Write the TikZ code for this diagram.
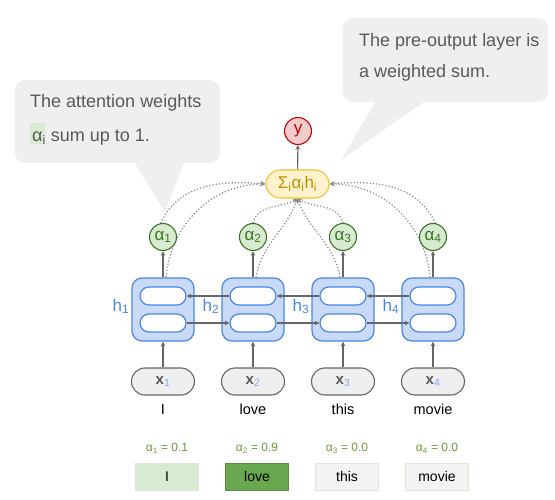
\documentclass[tikz,border=0pt]{standalone}
\usepackage{fontspec}
\setmainfont{Liberation Sans}
\usetikzlibrary{positioning}
\definecolor{notegray}{HTML}{EFEFEF}
\definecolor{notetext}{HTML}{595959}
\definecolor{hlgreen}{HTML}{D9EAD3}
\definecolor{darkgreen}{HTML}{38761D}
\definecolor{midgreen}{HTML}{6AA84F}
\definecolor{wtgreen}{HTML}{6E9A3A}
\definecolor{rnnfill}{HTML}{C9DAF8}
\definecolor{rnnblue}{HTML}{4A86E8}
\definecolor{sumfill}{HTML}{FFF2CC}
\definecolor{sumdraw}{HTML}{F1C232}
\definecolor{sumtext}{HTML}{BF9000}
\definecolor{outfill}{HTML}{F4CCCC}
\definecolor{outred}{HTML}{CC0000}
\definecolor{inputfill}{HTML}{EFEFEF}
\definecolor{linegray}{HTML}{666666}
\definecolor{dotgray}{HTML}{888888}
\definecolor{paperbox}{HTML}{F3F3F3}
\pgfdeclarelayer{bg}
\pgfsetlayers{bg,main}
\begin{document}
\begin{tikzpicture}[x=1pt,y=-1pt,>=stealth,
    arrow/.style={->,draw=linegray,line width=1.1pt},
    attn/.style={->,draw=dotgray,line width=1.2pt,dash pattern=on 1.2pt off 2pt},
    bubble/.style={fill=notegray},
    bubbletext/.style={inner sep=0pt,align=left,text=notetext,font=\fontsize{18}{34}\selectfont},
    rnnbox/.style={draw=rnnblue,fill=rnnfill,line width=1.2pt,rounded corners=10pt,minimum width=62pt,minimum height=63pt,inner sep=0pt},
    cellpill/.style={draw=rnnblue,fill=white,line width=1.2pt,rounded corners=9pt,minimum width=46pt,minimum height=18pt,inner sep=0pt},
    hlabel/.style={text=rnnblue,inner sep=0pt,font=\fontsize{17}{17}\selectfont},
    alphanode/.style={circle,draw=darkgreen,fill=hlgreen,line width=1.1pt,minimum size=27pt,inner sep=0pt,text=darkgreen,font=\fontsize{17}{17}\selectfont},
    inputnode/.style={draw=linegray,fill=inputfill,line width=1.1pt,rounded corners=13.5pt,minimum width=63pt,minimum height=27pt,inner sep=0pt,text=notetext,text height=8pt,text depth=3pt,font=\fontsize{15}{15}\selectfont},
    wordlabel/.style={inner sep=0pt,font=\fontsize{14.5}{14.5}\selectfont},
    weightlabel/.style={inner sep=0pt,text=wtgreen,font=\fontsize{12}{12}\selectfont},
    wordbox/.style={minimum width=63pt,minimum height=27pt,inner sep=0pt,line width=1pt,font=\fontsize{14}{14}\selectfont},
    wordbox1/.style={wordbox,fill=hlgreen,draw=hlgreen},
    wordbox2/.style={wordbox,fill=midgreen,draw=midgreen!85!black},
    wordbox3/.style={wordbox,fill=paperbox,draw=hlgreen},
    wordbox4/.style={wordbox,fill=paperbox,draw=hlgreen},
    sumnode/.style={draw=sumdraw,fill=sumfill,line width=1.1pt,rounded corners=14pt,minimum width=63pt,minimum height=28pt,inner sep=0pt,text=sumtext,font=\fontsize{17}{17}\selectfont},
    outnode/.style={circle,draw=outred,fill=outfill,line width=1.1pt,minimum size=27pt,inner sep=0pt,text=outred,font=\fontsize{17}{17}\selectfont}]
  \useasboundingbox (0,0) rectangle (555,500);
  % the columns: input, encoder cell, attention weight
  \foreach \i/\word/\val in {1/I/0.1,2/love/0.9,3/this/0.0,4/movie/0.0}{
    \pgfmathsetmacro\cx{73+90*\i}
    \node[rnnbox] (rnn\i) at (\cx,309.5) {};
    \node[cellpill] (top\i) at (\cx,296) {};
    \node[cellpill] (bot\i) at (\cx,323) {};
    \node[hlabel,anchor=east] (h\i) at ([xshift=-2pt,yshift=3pt]rnn\i.west) {h\textsubscript{\i}};
    \node[alphanode] (a\i) at (\cx,237) {α\textsubscript{\i}};
    \node[inputnode] (x\i) at (\cx,381.5) {\textbf{x}\textsubscript{\textcolor{rnnblue!70}{\i}}};
    \node[wordlabel,anchor=base] (w\i) at (\cx,414) {\word};
    \node[weightlabel] (v\i) at (\cx+4,448) {α\textsubscript{\i} = \val};
    \node[wordbox\i] (b\i) at (\cx+4,476.5) {\word};
    \draw[arrow] (x\i) -- (rnn\i);
    \draw[arrow] (rnn\i) -- (a\i);
  }
  \foreach \i/\j in {1/2,2/3,3/4}{
    \draw[arrow] (top\j) -- (top\i);
    \draw[arrow] (bot\i) -- (bot\j);
  }
  % weighted sum and output
  \node[sumnode] (sum) at (297.5,184) {Σ\textsubscript{i}α\textsubscript{i}h\textsubscript{i}};
  \node[outnode] (y) at (298,131) {y};
  \draw[arrow] (sum) -- (y);
  % notes
  \node[bubbletext,anchor=north west] (noteA) at (30,94) {The attention weights\\{\setlength{\fboxsep}{2pt}\colorbox{hlgreen}{\rule[-1pt]{0pt}{17pt}α}}\kern-2pt\textsubscript{i} sum up to 1.};
  \node[bubbletext,anchor=north west,font=\fontsize{18}{31}\selectfont] (noteB) at (359,33) {The pre-output layer is\\a weighted sum.};
  \begin{pgfonlayer}{bg}
    \fill[bubble,rounded corners=10pt] (15,80) rectangle (220,163);
    \fill[bubble] (133,160) -- (165,212) -- (185,160) -- cycle;
    \fill[bubble,rounded corners=10pt] (343,18) rectangle (548,102);
    \fill[bubble] (377,99) -- (341,160) -- (428,99) -- cycle;
    % attention flow
    \draw[attn] ([xshift=3pt]rnn1.north) to[out=85,in=180] (sum.west);
    \draw[attn] (a1.100) to[out=65,in=175] (sum.west);
    \draw[attn] ([xshift=3pt]rnn2.north) to[out=80,in=-110] (sum.south);
    \draw[attn] (a2.north) to[out=75,in=-150] (sum.south);
    \draw[attn] ([xshift=-3pt]rnn3.north) to[out=100,in=-70] (sum.south);
    \draw[attn] (a3.north) to[out=105,in=-30] (sum.south);
    \draw[attn] ([xshift=-3pt]rnn4.north) to[out=95,in=0] (sum.east);
    \draw[attn] (a4.80) to[out=115,in=5] (sum.east);
  \end{pgfonlayer}
\end{tikzpicture}
\end{document}
